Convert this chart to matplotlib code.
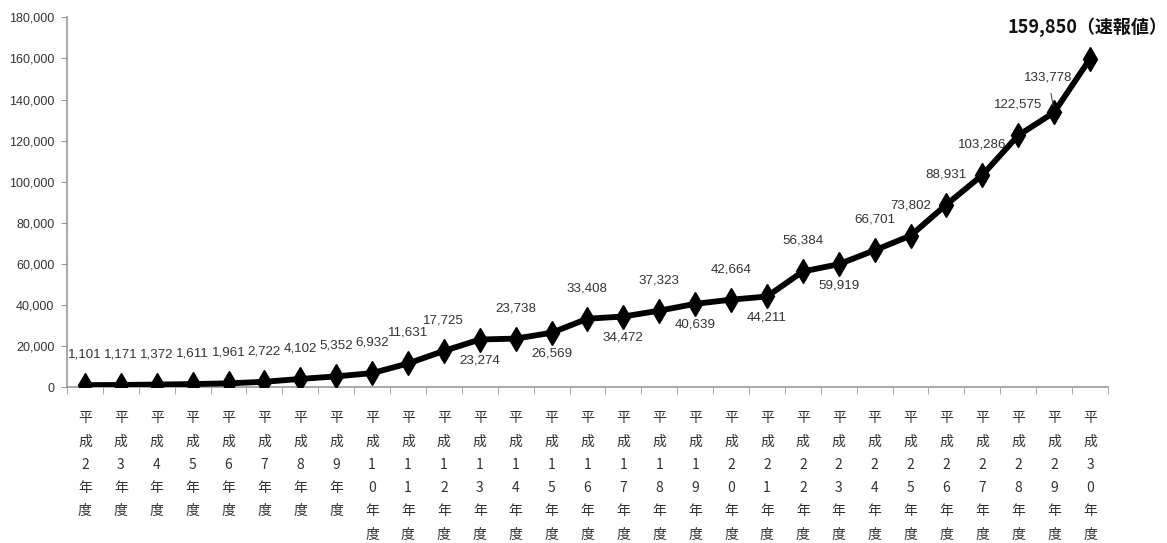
import matplotlib
matplotlib.use("Agg")
import matplotlib.pyplot as plt
from matplotlib.ticker import FuncFormatter, FixedLocator

# -------------------------
# Data
# -------------------------
years = ["平成2年度", "平成3年度", "平成4年度", "平成5年度", "平成6年度",
         "平成7年度", "平成8年度", "平成9年度", "平成10年度", "平成11年度",
         "平成12年度", "平成13年度", "平成14年度", "平成15年度", "平成16年度",
         "平成17年度", "平成18年度", "平成19年度", "平成20年度", "平成21年度",
         "平成22年度", "平成23年度", "平成24年度", "平成25年度", "平成26年度",
         "平成27年度", "平成28年度", "平成29年度", "平成30年度"]
counts = [1101, 1171, 1372, 1611, 1961, 2722, 4102, 5352, 6932, 11631,
          17725, 23274, 23738, 26569, 33408, 34472, 37323, 40639, 42664, 44211,
          56384, 59919, 66701, 73802, 88931, 103286, 122575, 133778, 159850]
# where each value label sits: above / below the point
label_side = ["a"] * 11 + ["b", "a", "b", "a", "b", "a", "b", "a", "b",
                           "a", "b", "a", "a", "a", "a", "a", "a", "a"]
last_note = "（速報値）"
y_ticks = list(range(0, 180001, 20000))

num_font = "Liberation Sans"
cjk = "Noto Sans CJK JP"

plt.rcParams["font.family"] = [num_font, cjk, "DejaVu Sans"]

fig = plt.figure(figsize=(11.67, 5.43), dpi=100)
ax = fig.add_axes([0.0574, 0.2866, 0.892, 0.6814])

x = list(range(len(counts)))
ax.plot(x, counts, color="black", lw=4.2, marker="d", markersize=12,
        markerfacecolor="black", markeredgecolor="black", zorder=3)

ax.set_xlim(-0.5, len(counts) - 0.5)
ax.set_ylim(0, 180000)

# -------------------------
# Value labels
# -------------------------
txt_color = "#333333"
for i, (v, side) in enumerate(zip(counts, label_side)):
    if i == len(counts) - 1:
        ax.annotate(f"{v:,}" + last_note, (i, v), xytext=(-2, 23),
                    textcoords="offset points", ha="center", va="center",
                    fontsize=13, fontweight="bold", color="#111111",
                    family=[cjk, "DejaVu Sans"], annotation_clip=False)
    elif i == len(counts) - 2:
        ax.annotate(f"{v:,}", (i, v), xytext=(-4, 25),
                    textcoords="offset points", ha="center", va="center",
                    fontsize=9.6, color=txt_color,
                    arrowprops=dict(arrowstyle="-", color="#555555", lw=0.8,
                                    shrinkA=5, shrinkB=5))
    else:
        dy = 22 if side == "a" else -15
        ax.annotate(f"{v:,}", (i, v), xytext=(0, dy),
                    textcoords="offset points", ha="center", va="center",
                    fontsize=9.6, color=txt_color)

# -------------------------
# Axes styling
# -------------------------
for s in ["top", "right"]:
    ax.spines[s].set_visible(False)
ax.spines["left"].set_color("#9a9a9a")
ax.spines["bottom"].set_color("#9a9a9a")
ax.spines["left"].set_linewidth(1.2)
ax.spines["bottom"].set_linewidth(1.2)

ax.set_yticks(y_ticks)
ax.yaxis.set_major_formatter(FuncFormatter(lambda v, p: f"{int(v):,}"))
ax.tick_params(axis="y", direction="out", length=4, color="#9a9a9a",
               labelsize=9, labelcolor="#333333", pad=5)

ax.set_xticks(x)
ax.set_xticklabels(["\n".join(y) for y in years], family=[cjk, "DejaVu Sans"],
                   fontsize=10, color="#333333", linespacing=1.85)
ax.tick_params(axis="x", which="major", length=0, pad=17)
ax.xaxis.set_minor_locator(FixedLocator([i + 0.5 for i in range(-1, len(counts))]))
ax.tick_params(axis="x", which="minor", direction="out", length=5,
               color="#9a9a9a")

for lbl in ax.get_xticklabels():
    lbl.set_verticalalignment("top")

fig.savefig("out.png", dpi=100)
